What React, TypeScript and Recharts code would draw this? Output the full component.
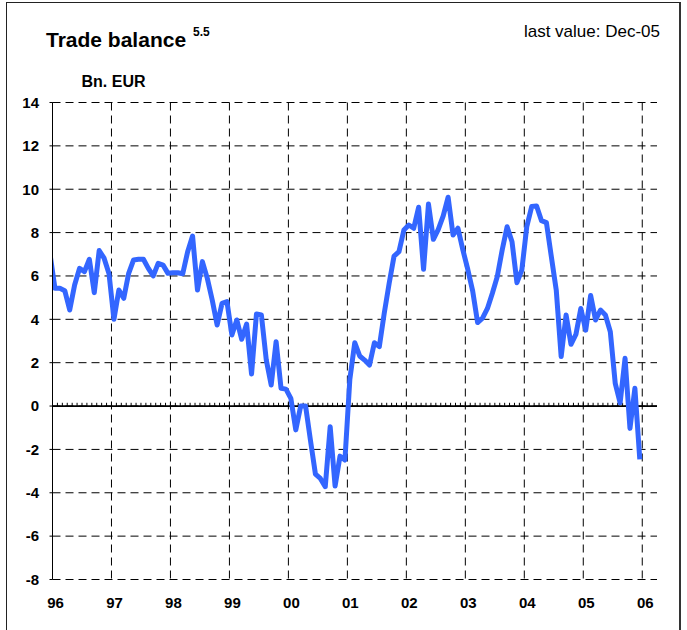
import React from 'react'
import { LineChart, Line, XAxis, YAxis, CartesianGrid, ReferenceLine } from 'recharts'

// monthly trade balance, Bn. EUR
const dec1995 = 7.0
const y1996 = [5.43, 5.43, 5.32, 4.43, 5.58, 6.35, 6.2, 6.77, 5.23, 7.17, 6.82, 6.1]
const y1997 = [4.0, 5.35, 4.97, 6.12, 6.74, 6.77, 6.77, 6.35, 6.0, 6.58, 6.5, 6.12]
const y1998 = [6.15, 6.15, 6.1, 7.12, 7.84, 5.35, 6.66, 5.89, 4.89, 3.74, 4.74, 4.82]
const y1999 = [3.28, 3.97, 3.08, 3.78, 1.48, 4.25, 4.2, 2.12, 0.97, 2.97, 0.82, 0.78]
const y2000 = [0.35, -1.1, 0.0, 0.0, -1.6, -3.14, -3.34, -3.72, -0.95, -3.69, -2.31, -2.49]
const y2001 = [1.23, 2.92, 2.31, 2.12, 1.89, 2.92, 2.74, 4.28, 5.66, 6.92, 7.12, 8.12]
const y2002 = [8.35, 8.2, 9.17, 6.31, 9.32, 7.69, 8.15, 8.77, 9.63, 7.89, 8.2, 7.2]
const y2003 = [6.3, 5.3, 3.85, 4.05, 4.5, 5.2, 5.97, 7.2, 8.27, 7.58, 5.69, 6.28]
const y2004 = [8.27, 9.2, 9.23, 8.55, 8.46, 6.89, 5.35, 2.28, 4.2, 2.85, 3.3, 4.5]
const y2005 = [3.5, 5.1, 3.97, 4.43, 4.2, 3.43, 1.05, 0.15, 2.2, -1.03, 0.82, -2.46]

const yearLabels = ['96', '97', '98', '99', '00', '01', '02', '03', '04', '05', '06']
const yTicks = [-8, -6, -4, -2, 0, 2, 4, 6, 8, 10, 12, 14]

const monthly = [dec1995, ...y1996, ...y1997, ...y1998, ...y1999, ...y2000,
  ...y2001, ...y2002, ...y2003, ...y2004, ...y2005]

// x = months since Jan-96, points sit mid-month
const data = monthly.map((v, k) => ({ t: k - 0.5, value: v }))
const xTicks = yearLabels.map((_, k) => k * 12)
const minorTicks = Array.from({ length: 122 }, (_, k) => k + 1)

const font = '"Liberation Sans", Arial, sans-serif'

export default function App() {
  return (
    <div style={{ position: 'absolute', left: 0, top: 0, width: 687, height: 630, background: '#fff', overflow: 'hidden', fontFamily: font }}>
      {/* frame */}
      <div style={{ position: 'absolute', left: 6, top: 2, width: 672, height: 660, borderLeft: '1px solid #222', borderTop: '1px solid #222', borderRight: '2px solid #333' }} />

      <LineChart width={687} height={630} data={data} margin={{ top: 102.5, right: 30, bottom: 20.5, left: 0 }}>
        <CartesianGrid stroke="#000" strokeDasharray="8 5" syncWithTicks />
        <XAxis
          type="number"
          dataKey="t"
          domain={[0, 123]}
          ticks={xTicks}
          allowDataOverflow
          axisLine={false}
          tickLine={false}
          tickSize={0}
          tickMargin={18}
          height={30}
          tickFormatter={(v: number) => yearLabels[Math.round(v / 12)]}
          tick={{ fill: '#000', fontSize: 15, fontWeight: 'bold', fontFamily: font, dx: 3 }}
        />
        <YAxis
          type="number"
          domain={[-8, 14]}
          ticks={yTicks}
          width={52.5}
          axisLine={{ stroke: '#000' }}
          tickLine={{ stroke: '#000' }}
          tickSize={3}
          tickMargin={10.5}
          tick={{ fill: '#000', fontSize: 15, fontWeight: 'bold', fontFamily: font }}
        />
        <ReferenceLine y={0} stroke="#000" strokeWidth={1.8} />
        {minorTicks.map((m) => (
          <ReferenceLine key={m} segment={[{ x: m, y: 0 }, { x: m, y: 0.15 }]} stroke="#000" strokeWidth={1} />
        ))}
        <Line
          type="linear"
          dataKey="value"
          stroke="#3366ff"
          strokeWidth={5}
          strokeLinejoin="round"
          dot={false}
          activeDot={false}
          isAnimationActive={false}
        />
      </LineChart>

      {/* titles */}
      <svg width={687} height={110} style={{ position: 'absolute', left: 0, top: 0, pointerEvents: 'none' }}>
        <text x={46} y={47} fontFamily={font} fontWeight="bold" fontSize={21} fill="#000">Trade balance</text>
        <text x={193} y={36} fontFamily={font} fontWeight="bold" fontSize={12} fill="#000">5.5</text>
        <text x={660} y={37} fontFamily={font} fontSize={17} fill="#000" textAnchor="end">last value: Dec-05</text>
        <text x={81.5} y={86.5} fontFamily={font} fontWeight="bold" fontSize={16} fill="#000">Bn. EUR</text>
      </svg>
    </div>
  )
}
